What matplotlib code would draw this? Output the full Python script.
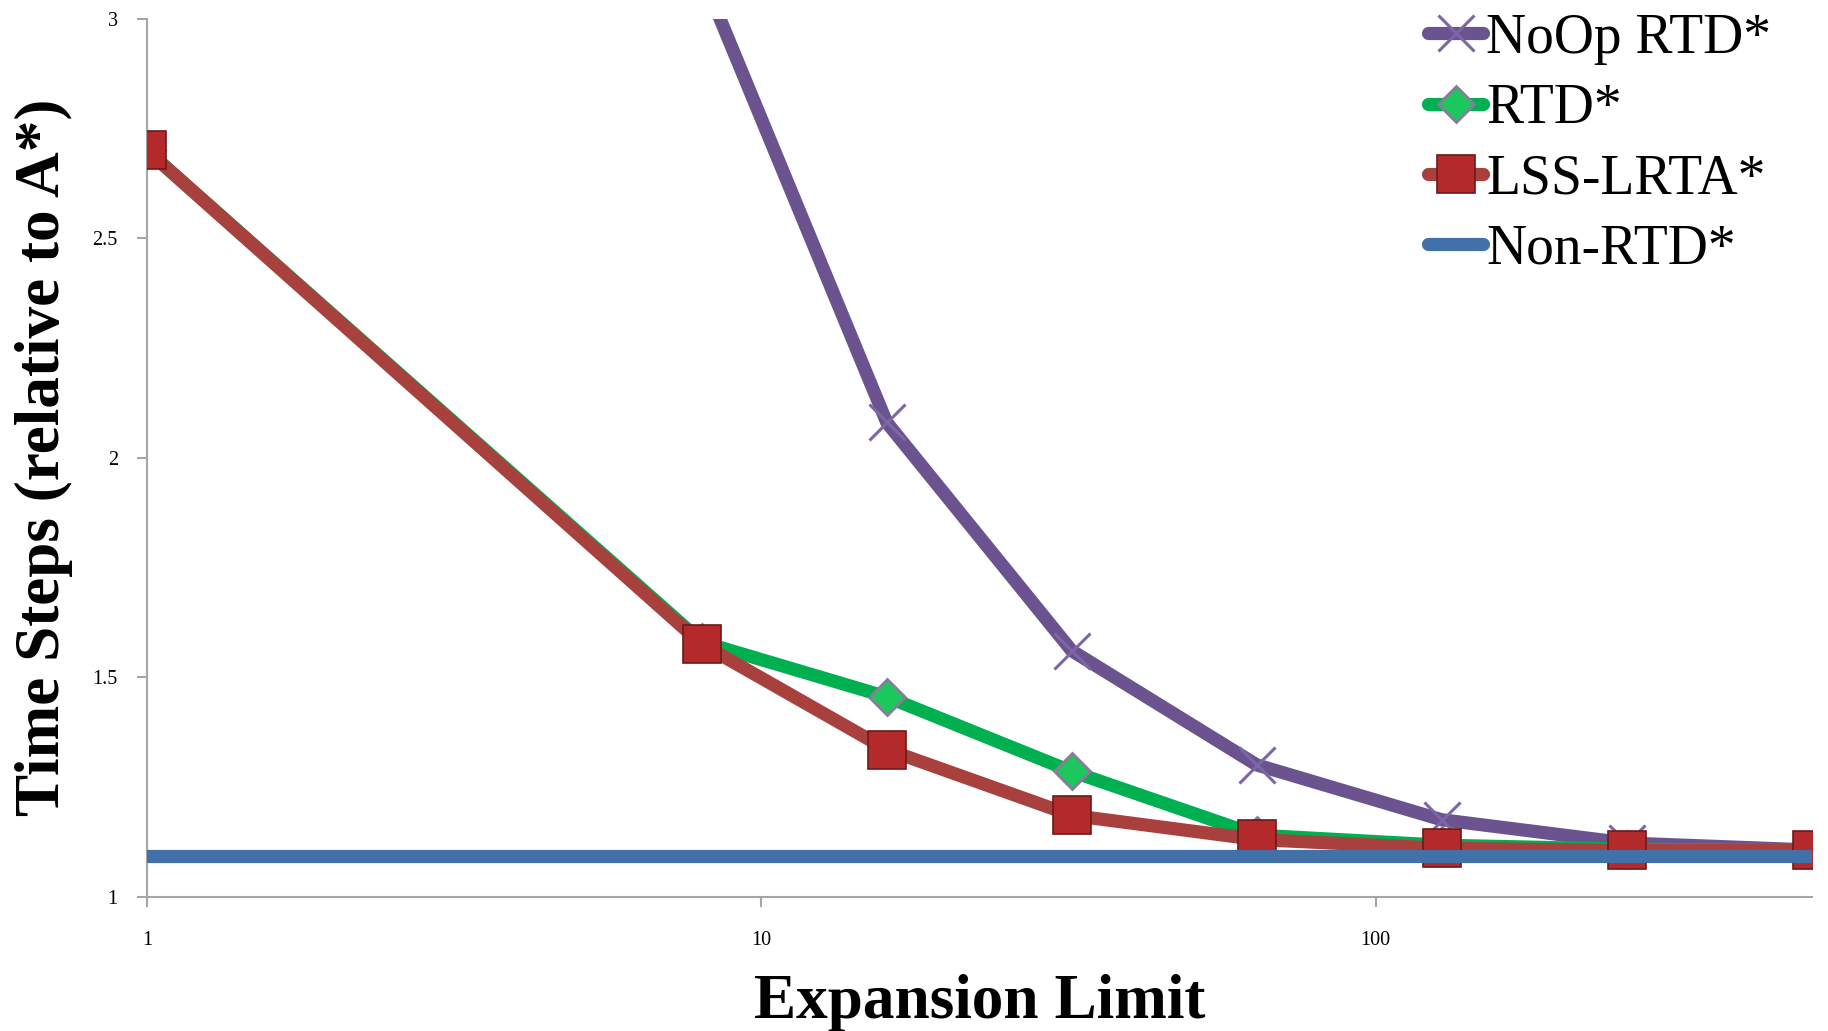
import matplotlib
matplotlib.use('Agg')
import matplotlib.pyplot as plt

# ---- data ----
expansion_limits = [1, 8, 16, 32, 64, 128, 256, 512]
noop_x = [8, 16, 32, 64, 128, 256, 512]
noop_rtd = [3.10, 2.08, 1.56, 1.30, 1.175, 1.122, 1.106]
rtd = [2.70, 1.58, 1.455, 1.285, 1.14, 1.117, 1.108, 1.105]
lss_lrta = [2.70, 1.575, 1.335, 1.185, 1.13, 1.11, 1.105, 1.105]
non_rtd = [1.093, 1.093, 1.093, 1.093, 1.093, 1.093, 1.093, 1.093]

x_ticks = [1, 10, 100]
x_tick_labels = ["1", "10", "100"]
y_ticks = [1, 1.5, 2, 2.5, 3]
y_tick_labels = ["1", "1.5", "2", "2.5", "3"]

plt.rcParams['font.family'] = ['Liberation Serif', 'DejaVu Serif']

fig = plt.figure(figsize=(18.28, 10.31), dpi=100)
ax = fig.add_axes([0.0804, 0.1304, 0.9106, 0.8515])

lw = 9.5
l1, = ax.plot(noop_x, noop_rtd, color='#6b538f', lw=lw, solid_capstyle='round',
              marker='x', markersize=26, markeredgewidth=2.2, markeredgecolor='#7d66a6',
              label='NoOp RTD*', zorder=2)
l2, = ax.plot(expansion_limits, rtd, color='#00b050', lw=lw, solid_capstyle='round',
              marker='D', markersize=18, markerfacecolor='#1cc85e', markeredgecolor='#8a7a9c',
              markeredgewidth=2, label='RTD*', zorder=3)
l3, = ax.plot(expansion_limits, lss_lrta, color='#a8413d', lw=lw, solid_capstyle='round',
              marker='s', markersize=27, markerfacecolor='#b42a2a', markeredgecolor='#6a1a1a',
              markeredgewidth=1.2, label='LSS-LRTA*', zorder=4)
l4, = ax.plot(expansion_limits, non_rtd, color='#4270a8', lw=lw, solid_capstyle='round',
              label='Non-RTD*', zorder=5)

ax.set_xscale('log')
ax.set_xlim(1, 512)
ax.set_ylim(1, 3)
ax.set_xticks(x_ticks)
ax.set_xticklabels(x_tick_labels)
ax.minorticks_off()
ax.set_yticks(y_ticks)
ax.set_yticklabels(y_tick_labels)

for s in ['top', 'right']:
    ax.spines[s].set_visible(False)
for s in ['left', 'bottom']:
    ax.spines[s].set_color('#a6a6a6')
    ax.spines[s].set_linewidth(1.5)
    ax.spines[s].set_zorder(1)

ax.tick_params(axis='x', direction='out', length=7, width=1.5, color='#a6a6a6',
               labelsize=14.5, pad=18)
ax.tick_params(axis='y', direction='out', length=7, width=1.5, color='#a6a6a6',
               labelsize=14.5, pad=14)

ax.set_xlabel('Expansion Limit', fontsize=45.5, fontweight='bold', labelpad=17)
ax.set_ylabel('Time Steps (relative to A*)', fontsize=45.5, fontweight='bold', labelpad=14)

leg = fig.legend(handles=[l1, l2, l3, l4], loc='upper left',
                 bbox_to_anchor=(0.778, 0.993), bbox_transform=fig.transFigure,
                 frameon=False, fontsize=40, handlelength=1.0, handletextpad=0.05,
                 labelspacing=0.33, borderpad=0.1, borderaxespad=0)

fig.savefig('out.png', dpi=100)
